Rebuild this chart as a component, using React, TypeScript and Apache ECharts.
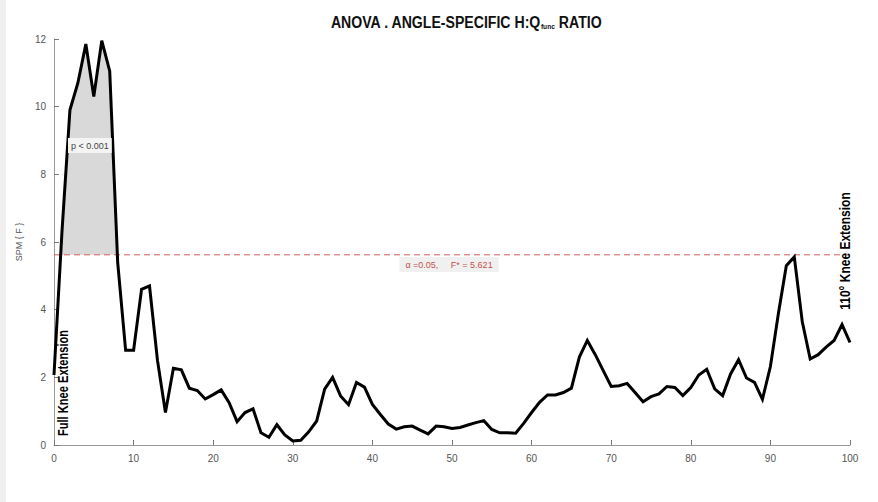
import React, { useEffect, useRef } from "react";
import * as echarts from "echarts";

// Knee angle (% of range of motion) and SPM{F} statistic
const angles: number[] = Array.from({ length: 101 }, (_, i) => i);
const spmF: number[] = [
  2.07, 6.3, 9.9, 10.7, 11.85, 10.3, 11.95, 11.05, 5.4, 2.8,
  2.8, 4.6, 4.7, 2.5, 0.96, 2.27, 2.22, 1.68, 1.61, 1.36,
  1.49, 1.63, 1.25, 0.69, 0.96, 1.07, 0.36, 0.23, 0.6, 0.3,
  0.12, 0.14, 0.39, 0.71, 1.65, 2.0, 1.45, 1.19, 1.85, 1.71,
  1.2, 0.9, 0.62, 0.47, 0.54, 0.56, 0.44, 0.33, 0.56, 0.54,
  0.49, 0.52, 0.59, 0.66, 0.72, 0.46, 0.36, 0.36, 0.35, 0.64,
  0.96, 1.26, 1.48, 1.48, 1.55, 1.68, 2.6, 3.09, 2.67, 2.2,
  1.73, 1.75, 1.82, 1.55, 1.28, 1.43, 1.51, 1.73, 1.7, 1.46,
  1.7, 2.07, 2.24, 1.66, 1.46, 2.1, 2.52, 1.98, 1.85, 1.35,
  2.32, 3.88, 5.3, 5.56, 3.65, 2.54, 2.67, 2.89, 3.09, 3.56,
  3.03,
];
const criticalF = 5.621;
const alpha = 0.05;
const pLabel = "p < 0.001";
const xTicks = [0, 100, 10];
const yTicks = [0, 12, 2];

// Polygons of the supra-threshold clusters, with crossings interpolated
function clusters(): number[][][] {
  const out: number[][][] = [];
  let cur: number[][] | null = null;
  for (let i = 0; i < spmF.length; i++) {
    const v = spmF[i];
    const above = v >= criticalF;
    if (above && !cur) {
      cur = [];
      if (i > 0) {
        const v0 = spmF[i - 1];
        const t = (criticalF - v0) / (v - v0);
        cur.push([angles[i - 1] + t * (angles[i] - angles[i - 1]), criticalF]);
      } else cur.push([angles[i], criticalF]);
    }
    if (above && cur) cur.push([angles[i], v]);
    if (!above && cur) {
      const v0 = spmF[i - 1];
      const t = (criticalF - v0) / (v - v0);
      cur.push([angles[i - 1] + t * (angles[i] - angles[i - 1]), criticalF]);
      out.push(cur);
      cur = null;
    }
  }
  if (cur) {
    cur.push([angles[angles.length - 1], criticalF]);
    out.push(cur);
  }
  return out;
}

export default function App() {
  const ref = useRef<HTMLDivElement>(null);
  useEffect(() => {
    document.body.style.margin = "0";
    const chart = echarts.init(ref.current!, null, { renderer: "svg" });
    const sans = "'Liberation Sans', Arial, sans-serif";
    const axisLabel = { color: "#555", fontSize: 10, fontFamily: sans };
    const heavy = "'Liberation Sans', 'DejaVu Sans', sans-serif";
    const xMin = xTicks[0];
    const xMax = xTicks[1];
    chart.setOption({
      animation: false,
      backgroundColor: "#ffffff",
      grid: { left: 54, right: 28, top: 39, bottom: 57 },
      xAxis: {
        type: "value",
        min: xMin,
        max: xMax,
        interval: xTicks[2],
        axisLine: { lineStyle: { color: "#999", width: 1 } },
        axisTick: { inside: true, length: 5, lineStyle: { color: "#777" } },
        axisLabel: { ...axisLabel, margin: 8 },
        splitLine: { show: false },
      },
      yAxis: {
        type: "value",
        min: yTicks[0],
        max: yTicks[1],
        interval: yTicks[2],
        name: "SPM { F }",
        nameLocation: "middle",
        nameRotate: 90,
        nameGap: 22,
        nameTextStyle: { color: "#555", fontSize: 9, fontFamily: sans },
        axisLine: { show: true, lineStyle: { color: "#999", width: 1 } },
        axisTick: { show: true, inside: true, length: 5, lineStyle: { color: "#777" } },
        axisLabel: { ...axisLabel, margin: 8 },
        splitLine: { show: false },
      },
      series: [
        {
          type: "custom",
          silent: true,
          data: [[0, 0]],
          z: 1,
          renderItem: (params: any, api: any) => {
            if (params.dataIndex !== 0) return null;
            return {
              type: "group",
              children: clusters().map((poly) => ({
                type: "polygon",
                shape: { points: poly.map((p) => api.coord(p)) },
                style: { fill: "#d9d9d9", stroke: "none" },
              })),
            };
          },
        },
        {
          // critical threshold F*
          type: "line",
          data: [
            [xMin, criticalF],
            [xMax, criticalF],
          ],
          symbol: "none",
          silent: true,
          z: 2,
          lineStyle: { color: "#d65a5a", width: 1, type: [6, 4] },
        },
        {
          type: "line",
          data: angles.map((a, i) => [a, spmF[i]]),
          symbol: "none",
          z: 3,
          lineStyle: { color: "#000", width: 3, join: "miter" },
        },
      ],
      graphic: [
        { type: "rect", left: 0, top: 0, shape: { width: 6, height: 502 }, style: { fill: "#f0f0f0" } },
        {
          type: "text",
          x: 466,
          y: 22,
          scaleX: 0.83,
          style: {
            text: "{t|ANOVA . ANGLE-SPECIFIC H:Q}{s|func}{t| RATIO}",
            fill: "#111",
            align: "center",
            verticalAlign: "middle",
            rich: {
              t: { fontFamily: heavy, fontWeight: "bold", fontSize: 17, fill: "#111" },
              s: { fontFamily: heavy, fontWeight: "bold", fontSize: 8, fill: "#111", padding: [9, 0, 0, 0] },
            },
          },
          z: 10,
        },
        {
          type: "text",
          x: 68,
          y: 138,
          style: {
            text: pLabel,
            fill: "#444",
            fontSize: 9,
            fontFamily: sans,
            backgroundColor: "#f4f4f4",
            padding: [3, 3, 3, 3],
          },
          z: 10,
        },
        {
          type: "text",
          x: 449,
          y: 257,
          style: {
            text: `α =${alpha.toFixed(2)},     F* = ${criticalF}`,
            fill: "#c0504d",
            fontSize: 9,
            fontFamily: sans,
            align: "center",
            backgroundColor: "#f0f0f0",
            padding: [3, 6, 3, 6],
          },
          z: 10,
        },
        {
          type: "text",
          x: 63,
          y: 383,
          rotation: Math.PI / 2,
          scaleX: 0.74,
          style: {
            text: "Full Knee Extension",
            fill: "#000",
            fontSize: 15,
            fontWeight: "bold",
            fontFamily: heavy,
            align: "center",
            verticalAlign: "middle",
          },
          z: 10,
        },
        {
          type: "text",
          x: 845,
          y: 251,
          rotation: Math.PI / 2,
          scaleX: 0.8,
          style: {
            text: "110° Knee Extension",
            fill: "#000",
            fontSize: 15,
            fontWeight: "bold",
            fontFamily: heavy,
            align: "center",
            verticalAlign: "middle",
          },
          z: 10,
        },
      ],
    });
    return () => chart.dispose();
  }, []);
  return <div ref={ref} style={{ width: 878, height: 502 }} />;
}
